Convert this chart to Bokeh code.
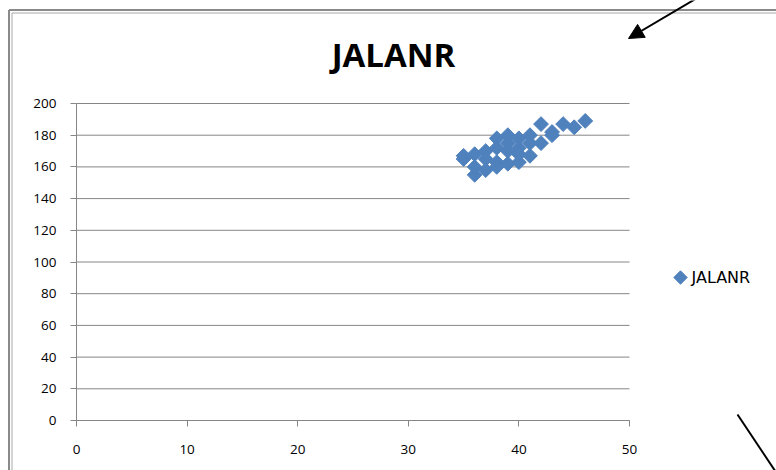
import numpy as np
from bokeh.plotting import figure
from bokeh.models import Range1d, FixedTicker, Label, Arrow, NormalHead, LinearAxis
from bokeh.embed import file_html
from bokeh.resources import INLINE

# ---------------- data ----------------
title_text = "JALANR"
series_name = "JALANR"
x_vals = [35, 35, 36, 36, 36, 37, 37, 37, 38, 38, 38, 38, 39, 39, 39, 39,
          40, 40, 40, 40, 41, 41, 41, 42, 42, 43, 43, 44, 45, 46]
y_vals = [165, 167, 155, 168, 160, 158, 165, 170, 178, 172, 163, 160, 180, 170, 162, 175,
          178, 172, 163, 168, 180, 167, 175, 187, 175, 182, 180, 187, 185, 189]
x_ticks = [0, 10, 20, 30, 40, 50]
y_ticks = [0, 20, 40, 60, 80, 100, 120, 140, 160, 180, 200]

# ---------------- layout constants (pixels) ----------------
W, H = 776, 470
PLOT_L, PLOT_R, PLOT_T, PLOT_B = 76, 629, 103, 420
X_MIN, X_MAX = x_ticks[0], x_ticks[-1]
Y_MIN, Y_MAX = y_ticks[0], y_ticks[-1]
SX = (PLOT_R - PLOT_L) / (X_MAX - X_MIN)
SY = (PLOT_B - PLOT_T) / (Y_MAX - Y_MIN)


def dx(px):
    return X_MIN + (px - PLOT_L) / SX


def dy(py):
    return Y_MIN + (PLOT_B - py) / SY


GRID = "#868686"
BLUE = "#4F81BD"
FONT = "Open Sans"
MARKER_SIZE = 10.5

p = figure(width=W, height=H, output_backend="svg", toolbar_location=None,
           x_range=Range1d(dx(0), dx(W)), y_range=Range1d(dy(H), dy(0)),
           x_axis_location=None, y_axis_location=None,
           min_border=0, min_border_left=0, min_border_right=0,
           min_border_top=0, min_border_bottom=0)
p.outline_line_color = None
p.background_fill_color = "white"
p.border_fill_color = "white"
p.grid.visible = False

# horizontal gridlines (plot-area only)
p.segment(x0=[X_MIN] * len(y_ticks), x1=[X_MAX] * len(y_ticks), y0=y_ticks, y1=y_ticks,
          line_color=GRID, line_width=1)

xaxis = LinearAxis(fixed_location=Y_MIN, bounds=(X_MIN, X_MAX))
yaxis = LinearAxis(fixed_location=X_MIN, bounds=(Y_MIN, Y_MAX))
xaxis.ticker = FixedTicker(ticks=x_ticks)
yaxis.ticker = FixedTicker(ticks=y_ticks)
for ax in (xaxis, yaxis):
    ax.axis_line_color = GRID
    ax.major_tick_line_color = GRID
    ax.major_tick_out = 6
    ax.major_tick_in = 0
    ax.minor_tick_line_color = None
    ax.major_label_text_font = FONT
    ax.major_label_text_font_size = "13.5px"
    ax.major_label_text_color = "#000000"
yaxis.major_label_standoff = 14
xaxis.major_label_standoff = 18
p.add_layout(xaxis, "below")
p.add_layout(yaxis, "left")

p.scatter(x_vals, y_vals, marker="square", angle=np.pi / 4, size=MARKER_SIZE,
          fill_color=BLUE, line_color=BLUE)

# legend (drawn by hand so the key is a true diamond)
p.scatter([dx(680)], [dy(277)], marker="square", angle=np.pi / 4, size=MARKER_SIZE - 1,
          fill_color=BLUE, line_color=BLUE)
p.add_layout(Label(x=dx(691), y=dy(277), text=series_name,
                   text_align="left", text_baseline="middle",
                   text_font="DejaVu Sans", text_font_size="16px",
                   text_color="#000000"))

# title
p.add_layout(Label(x=dx(393), y=dy(54), text=title_text,
                   text_align="center", text_baseline="middle",
                   text_font=FONT, text_font_style="bold", text_font_size="33px",
                   text_color="#000000"))

# chart-area double border (top and left)
for off, col, w in ((0, "#8a8a8a", 2), (3, "#a8a8a8", 1)):
    p.add_layout(Arrow(end=None, x_start=dx(8.5 + off), y_start=dy(9.5 + off),
                       x_end=dx(W + 5), y_end=dy(9.5 + off),
                       line_color=col, line_width=w))
    p.add_layout(Arrow(end=None, x_start=dx(8.5 + off), y_start=dy(9.5 + off),
                       x_end=dx(8.5 + off), y_end=dy(H + 5),
                       line_color=col, line_width=w))

# pointer arrows
p.add_layout(Arrow(end=NormalHead(size=15, fill_color="black", line_color="black"),
                   x_start=dx(711), y_start=dy(-11), x_end=dx(628), y_end=dy(38),
                   line_color="black", line_width=2))
p.add_layout(Arrow(end=None, x_start=dx(737), y_start=dy(414), x_end=dx(785), y_end=dy(486),
                   line_color="black", line_width=2))

open("out.html", "w").write(file_html(p, INLINE))
